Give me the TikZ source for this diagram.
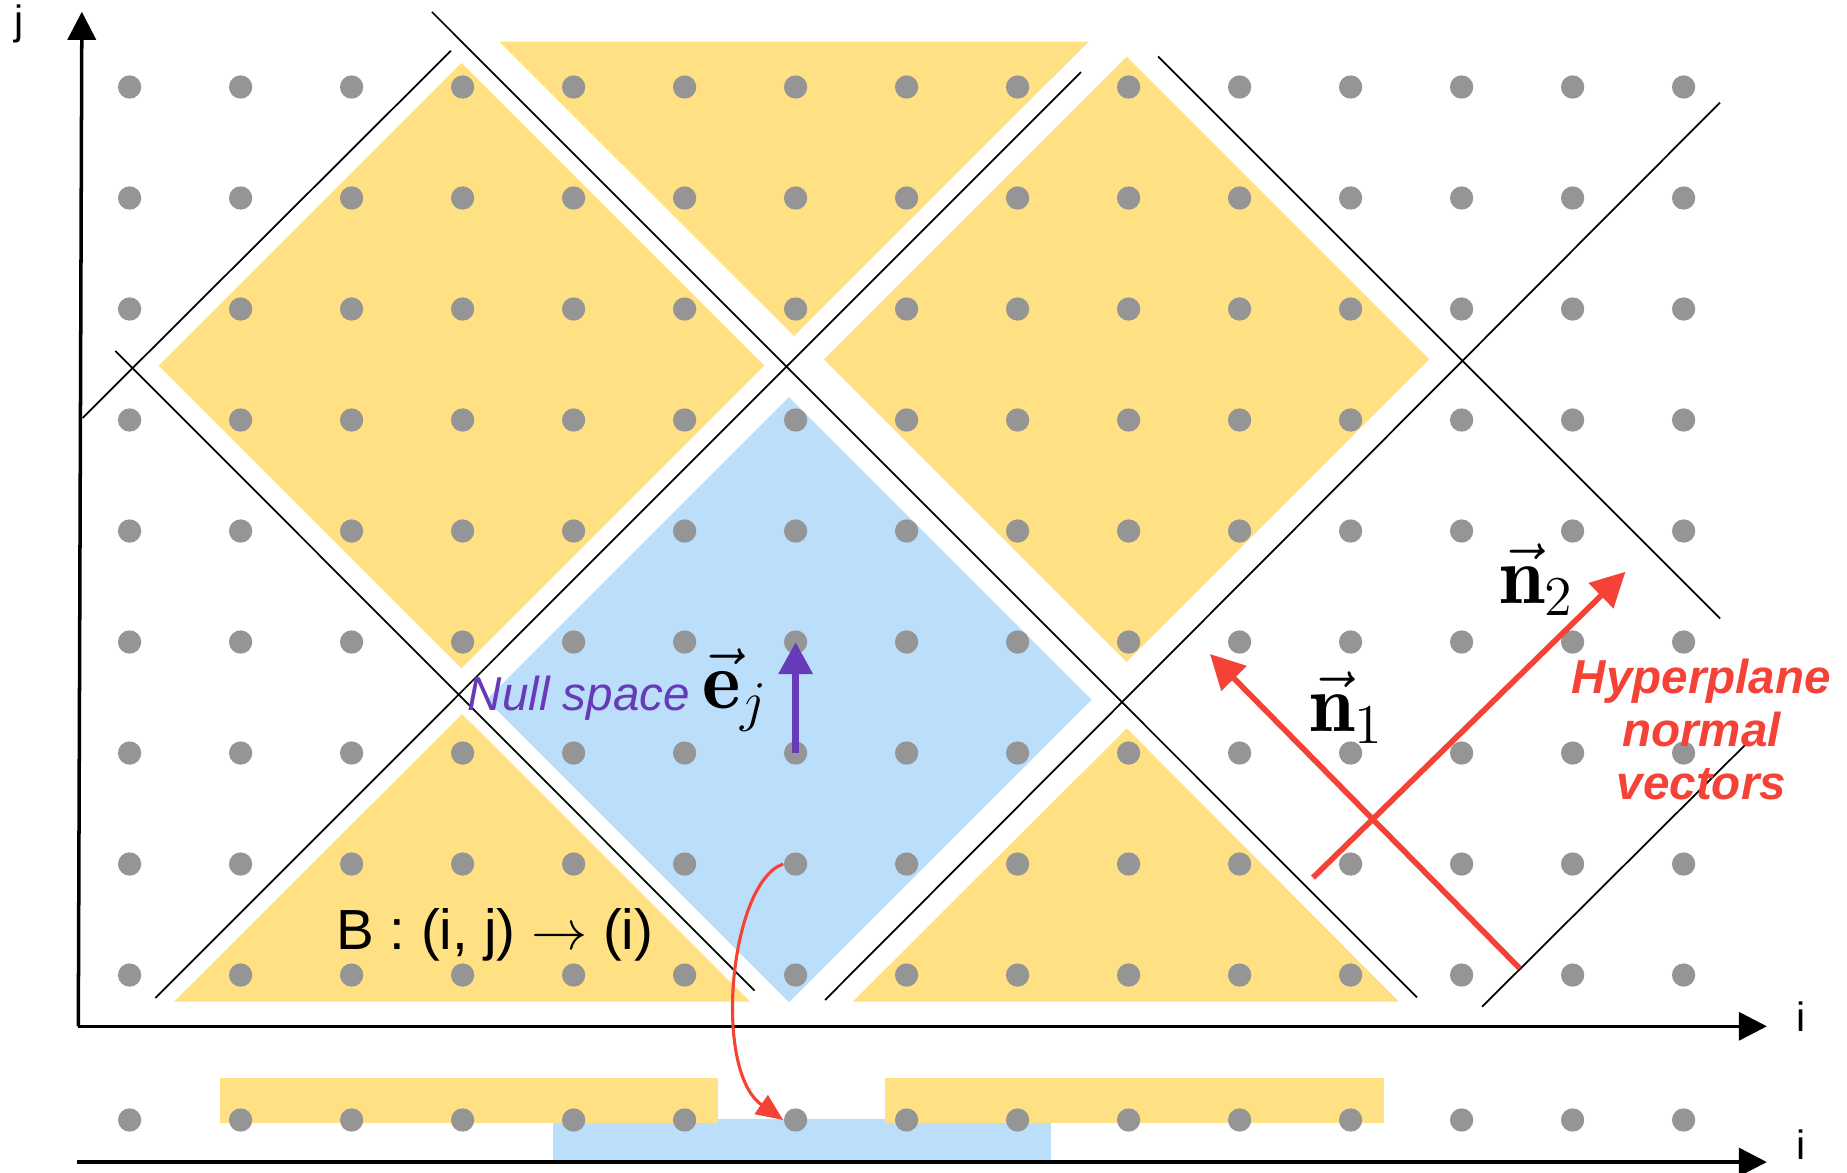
\documentclass[tikz,border=0pt]{standalone}
\usepackage{fontspec}
\newfontfamily\labelsans{Liberation Sans}
\usetikzlibrary{arrows.meta}
\definecolor{tileamber}{HTML}{FFE082}
\definecolor{tileblue}{HTML}{BBDEFB}
\definecolor{dotgray}{HTML}{959595}
\definecolor{normred}{HTML}{F44336}
\definecolor{nullpurple}{HTML}{673AB7}
\begin{document}
\begin{tikzpicture}[x=1cm,y=1cm]
\tikzset{
 latdot/.style={circle,fill=dotgray,draw=none,inner sep=0pt,minimum size=0.21cm},
 hyperline/.style={draw=black,line width=0.45pt},
 axisline/.style={draw=black,line width=0.9pt,-{Triangle[length=7.2pt,width=7.2pt]}},
 ambertile/.style={fill=tileamber,draw=none},
 nulltile/.style={fill=tileblue,draw=none},
 normalarrow/.style={draw=normred,line width=1.45pt,-{Triangle[length=8.8pt,width=8.8pt]}},
 nullarrow/.style={draw=nullpurple,line width=1.8pt,-{Triangle[length=8.2pt,width=8.4pt]}},
 projarrow/.style={draw=normred,line width=0.8pt,-{Triangle[length=6.9pt,width=5.8pt]}},
 axislabel/.style={font=\labelsans\fontsize{10.5}{12}\selectfont,inner sep=0pt,anchor=base},
 vectorlabel/.style={font=\fontsize{21}{24}\selectfont,inner sep=0pt,anchor=base west},
}
\useasboundingbox (-1.1676,-1.775) rectangle (15.472,8.784);

% projected bars (bottom)
\fill[nulltile] (3.812,-1.667) rectangle (8.301,-1.297);
\fill[ambertile] (0.814,-1.330) rectangle (5.301,-0.925);
\fill[ambertile] (6.806,-1.330) rectangle (11.30,-0.925);

% tiles
\fill[ambertile] (0.263,5.49) -- (2.99,8.217) -- (5.717,5.49) -- (2.99,2.763) -- cycle;
\fill[ambertile] (6.256,5.547) -- (8.983,8.274) -- (11.71,5.547) -- (8.983,2.82) -- cycle;
\fill[ambertile] (3.328,8.41) -- (8.641,8.41) -- (5.986,5.757) -- cycle;
\fill[ambertile] (0.4,-0.2405) -- (2.995,2.351) -- (5.589,-0.2405) -- cycle;
\fill[ambertile] (6.514,-0.2405) -- (8.983,2.222) -- (11.436,-0.2405) -- cycle;
\fill[nulltile] (3.213,2.48) -- (5.94,5.207) -- (8.667,2.48) -- (5.94,-0.247) -- cycle;

% lattice points
\foreach \x in {0,...,14}{
  \foreach \y in {0,...,8}{
    \node[latdot] (d\x-\y) at (\x,\y) {};
  }
  \node[latdot] (b\x) at (\x,-1.306) {};
}

% hyperplanes
\coordinate (hA1) at (2.724,8.676);   \coordinate (hA2) at (11.598,-0.201);
\coordinate (hB1) at (-0.128,5.622);  \coordinate (hB2) at (5.630,-0.141);
\coordinate (hC1) at (9.265,8.275);   \coordinate (hC2) at (14.328,3.212);
\coordinate (hD1) at (-0.424,5.018);  \coordinate (hD2) at (2.895,8.327);
\coordinate (hE1) at (0.232,-0.207);  \coordinate (hE2) at (8.571,8.135);
\coordinate (hF1) at (6.265,-0.225);  \coordinate (hF2) at (14.328,7.860);
\coordinate (hG1) at (12.184,-0.286); \coordinate (hG2) at (14.553,2.072);
\foreach \h in {A,B,C,D,E,F,G}{
  \draw[hyperline] (h\h1) -- (h\h2);
}

% axes
\coordinate (origin) at (-0.462,-0.462);
\coordinate (jtip) at (-0.43,8.678);
\coordinate (itip) at (14.75,-0.462);
\coordinate (origin2) at (-0.474,-1.685);
\coordinate (itip2) at (14.75,-1.685);
\draw[axisline] (origin) -- (jtip);
\draw[axisline] (origin) -- (itip);
\draw[axisline] (origin2) -- (itip2);
\node[axislabel] (jlab) at (-0.996,8.47) {j};
\node[axislabel] (ilab) at (15.06,-0.511) {i};
\node[axislabel] (ilab2) at (15.06,-1.664) {i};

% null space vector
\draw[nullarrow] (d6-2.center) -- (d6-3.center);
\node[anchor=base west,inner sep=0pt,text=nullpurple,font=\labelsans\itshape\fontsize{12.2}{14}\selectfont] (nulltext) at (3.04,2.387) {Null space};
\node[vectorlabel] (ejlab) at (5.15,2.403) {$\vec{\mathbf{e}}_j$};

% normal vectors
\coordinate (n1start) at (12.52,0.063);
\coordinate (n1tip) at (9.733,2.892);
\coordinate (n2start) at (10.661,0.877);
\coordinate (n2tip) at (13.476,3.633);
\draw[normalarrow] (n1start) -- (n1tip);
\draw[normalarrow] (n2start) -- (n2tip);
\node[vectorlabel] (n1lab) at (10.62,2.192) {$\vec{\mathbf{n}}_1$};
\node[vectorlabel] (n2lab) at (12.33,3.349) {$\vec{\mathbf{n}}_2$};
\node[anchor=north,inner sep=0pt,align=center,text=normred,font=\labelsans\bfseries\itshape\fontsize{12.2}{13.6}\selectfont] (hyplab) at (14.16,2.856) {Hyperplane\\normal\\vectors};

% projection
\draw[projarrow] (d6-1.west) .. controls (5.409,0.838) and (5.247,-0.856) .. (b6.west);
\node[anchor=base,inner sep=0pt,font=\labelsans\fontsize{14.5}{17}\selectfont] (blab) at (3.29,0.234) {B : (i, j) $\rightarrow$ (i)};
\end{tikzpicture}
\end{document}
